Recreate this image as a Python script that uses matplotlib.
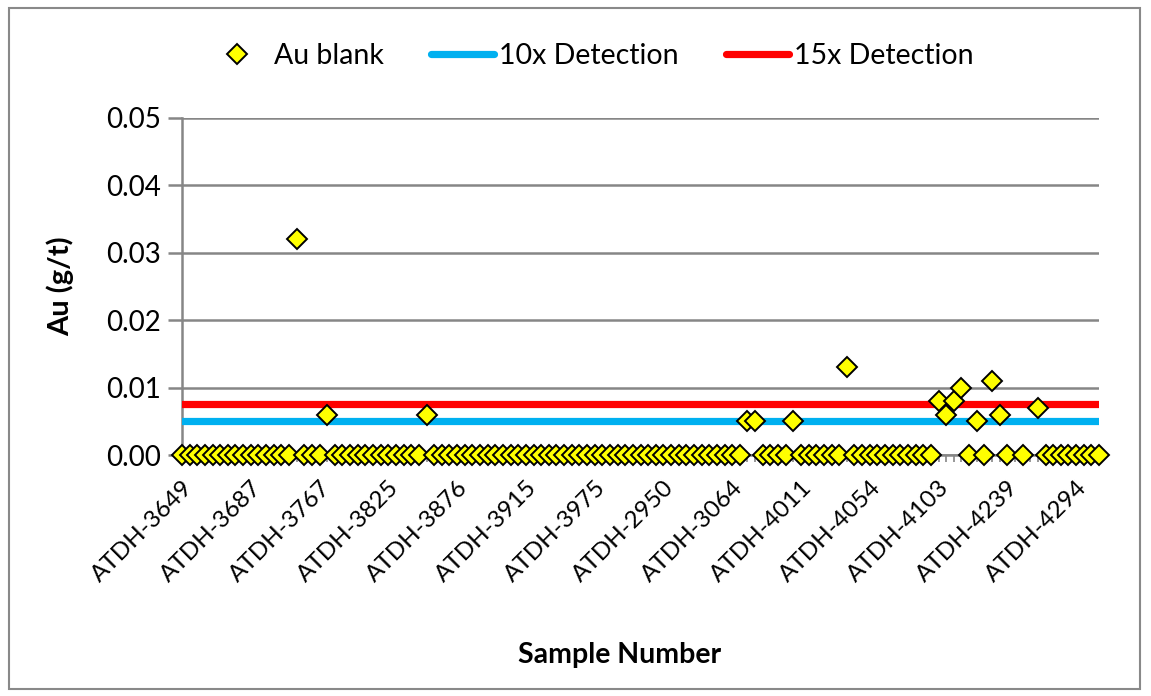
import numpy as np
import matplotlib
matplotlib.use("Agg")
import matplotlib.pyplot as plt
from matplotlib.patches import Rectangle
from matplotlib.ticker import FixedLocator, MultipleLocator

plt.rcParams['font.family'] = ['Lato', 'DejaVu Sans']

# ---- data ----
nan = np.nan
au_blank = [
    0, 0, 0, 0, 0, 0, 0, 0, 0, 0,
    0, 0, 0, 0, 0, 0.032, 0, 0, 0, 0.006,
    0, 0, 0, 0, 0, 0, 0, 0, 0, 0,
    0, 0, 0.006, 0, 0, 0, 0, 0, 0, 0,
    0, 0, 0, 0, 0, 0, 0, 0, 0, 0,
    0, 0, 0, 0, 0, 0, 0, 0, 0, 0,
    0, 0, 0, 0, 0, 0, 0, 0, 0, 0,
    0, 0, 0, 0, 0.005, 0.005, 0, 0, 0, 0,
    0.005, 0, 0, 0, 0, 0, 0, 0.013, 0, 0,
    0, 0, 0, 0, 0, 0, 0, 0, 0, 0.008,
    0.006, 0.008, 0.010, 0, 0.005, 0, 0.011, 0.006, 0, nan,
    0, nan, 0.007, 0, 0, 0, 0, 0, 0, 0, 0,
]
detection_10x = 0.005
detection_15x = 0.0075
tick_labels = ["ATDH-3649", "ATDH-3687", "ATDH-3767", "ATDH-3825", "ATDH-3876",
               "ATDH-3915", "ATDH-3975", "ATDH-2950", "ATDH-3064", "ATDH-4011",
               "ATDH-4054", "ATDH-4103", "ATDH-4239", "ATDH-4294"]
label_every = 9
y_ticks = [0.00, 0.01, 0.02, 0.03, 0.04, 0.05]

n = len(au_blank)
x = np.arange(n)

W, H = 1151, 696
fig = plt.figure(figsize=(W / 100, H / 100), dpi=100)
fig.patch.set_facecolor('white')
ax = fig.add_axes([182 / W, 1 - 455 / H, (1099 - 182) / W, (455 - 118) / H])

grid_col = '#868686'
ax.plot(x, np.full(n, detection_10x), color='#00B0F0', lw=5.2,
        solid_capstyle='round', zorder=3, label='10x Detection')
ax.plot(x, np.full(n, detection_15x), color='#FF0000', lw=5.2,
        solid_capstyle='round', zorder=3, label='15x Detection')
ax.plot(x, au_blank, linestyle='none', marker='D', ms=10, mfc='#FFFF00',
        mec='black', mew=1.4, zorder=4, label='Au blank', clip_on=False)

ax.set_xlim(0, n - 1)
ax.set_ylim(0, 0.05)
ax.set_yticks(y_ticks)
ax.set_yticklabels([f"{v:.2f}" for v in y_ticks])
ax.yaxis.grid(True, color=grid_col, lw=1.8)
ax.set_axisbelow(True)

ax.xaxis.set_major_locator(FixedLocator(list(range(0, n, label_every))[:len(tick_labels)]))
ax.set_xticklabels(tick_labels, rotation=45, ha='right', rotation_mode='anchor')
ax.xaxis.set_minor_locator(MultipleLocator(1))

for s in ['top', 'right']:
    ax.spines[s].set_visible(False)
for s in ['left', 'bottom']:
    ax.spines[s].set_color(grid_col)
    ax.spines[s].set_linewidth(1.8)

ax.tick_params(axis='y', which='major', length=10, width=1.8, color=grid_col,
               labelsize=20, pad=5)
ax.tick_params(axis='x', which='both', length=5, width=1.2, color=grid_col,
               direction='out')
ax.tick_params(axis='x', which='major', labelsize=17.5, pad=11)

ax.set_ylabel('Au (g/t)', fontsize=21, fontweight='bold')
ax.yaxis.set_label_coords((60 - 182) / (1099 - 182), 0.5)
ax.set_xlabel('Sample Number', fontsize=20.5, fontweight='bold')
ax.xaxis.set_label_coords((620 - 182) / (1099 - 182), -(655 - 455) / (455 - 118))
ax.xaxis.label.set_va('center')
ax.yaxis.label.set_va('center')

handles, labels = ax.get_legend_handles_labels()
order = [2, 0, 1]
leg = fig.legend([handles[i] for i in order], [labels[i] for i in order],
                 loc='center', bbox_to_anchor=(590 / W, 1 - 56 / H), ncol=3,
                 frameon=False, fontsize=20.5, handlelength=2.2, columnspacing=1.65,
                 handletextpad=0.2)

fig.patches.append(Rectangle((9 / W, 1 - 689 / H), (1140 - 9) / W, (689 - 8) / H,
                             transform=fig.transFigure, fill=False,
                             edgecolor='#898989', lw=1.5))

fig.savefig('out.png', dpi=100)
